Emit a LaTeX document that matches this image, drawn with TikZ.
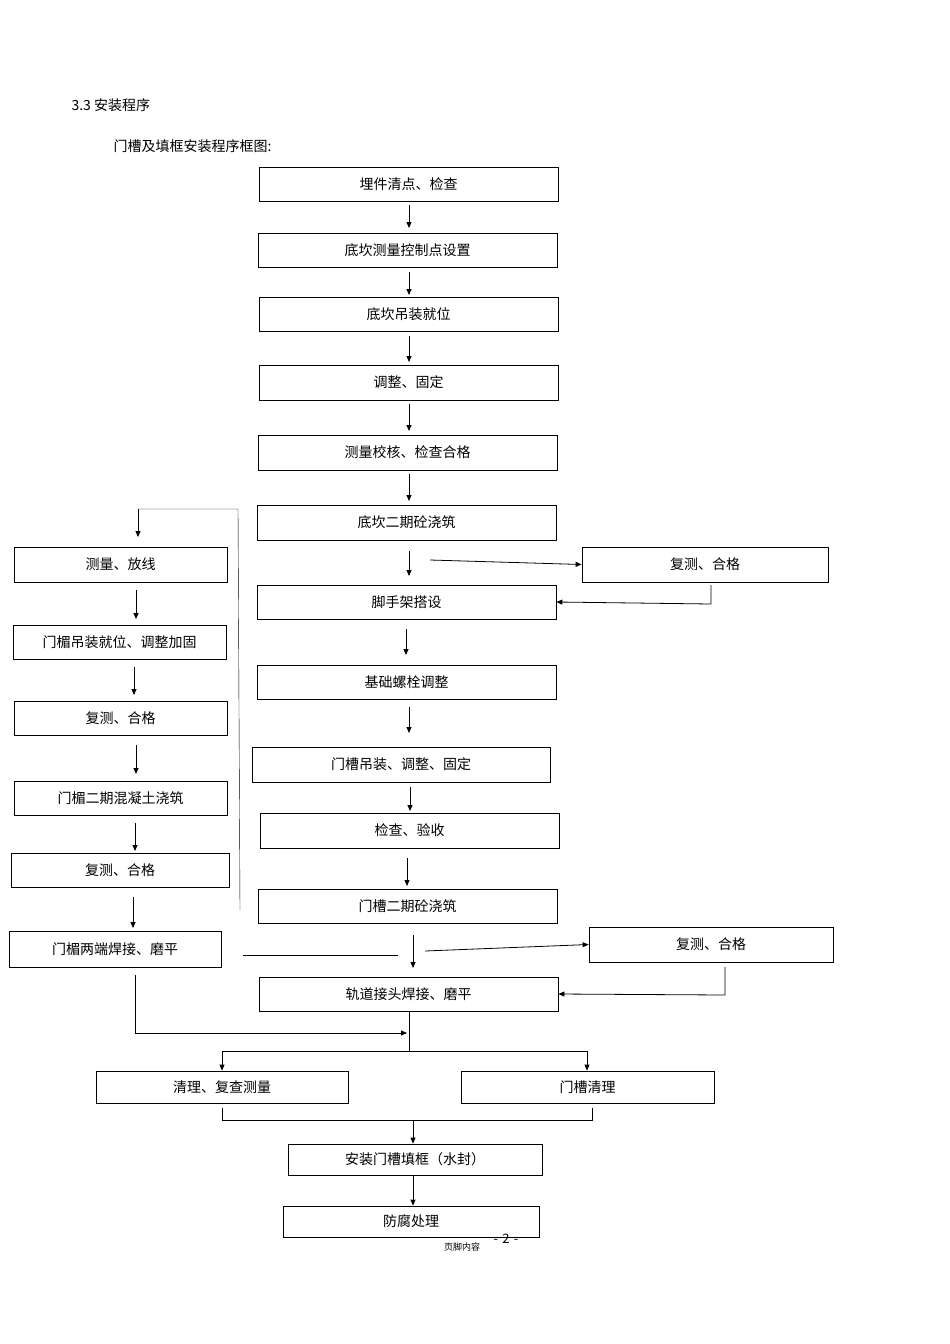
\documentclass[tikz,border=0pt]{standalone}
\usepackage{fontspec}
\setmainfont{Noto Sans CJK SC}
\usetikzlibrary{arrows.meta}
\begin{document}
\begin{tikzpicture}[x=1pt,y=-1pt,
 bx/.style={draw,thick,inner sep=0pt,font=\fontsize{14}{16}\selectfont},
 ar/.style={thick,-{Triangle[length=6pt,width=5pt]}},
 ln/.style={thin}]
\useasboundingbox (0,0) rectangle (950,1344);
\newcommand{\bx}[6]{\node[bx,minimum width=#4-#2,minimum height=#5-#3] (#1) at ({(#2+#4)/2},{(#3+#5)/2}) {#6};}
\node[anchor=west,font=\fontsize{14}{16}\selectfont] (t1) at (68,105) {3.3 安装程序};
\node[anchor=west,font=\fontsize{14}{16}\selectfont] (t2) at (110,146) {门槽及填框安装程序框图:};
\bx{A}{259}{167}{558}{201}{埋件清点、检查}
\bx{B}{258}{233}{557}{267}{底坎测量控制点设置}
\bx{C}{259}{297}{558}{331}{底坎吊装就位}
\bx{D}{259}{365}{558}{400}{调整、固定}
\bx{E}{258}{435}{557}{470}{测量校核、检查合格}
\bx{F}{257}{505}{556}{540}{底坎二期砼浇筑}
\bx{G}{582}{547}{828}{582}{复测、合格}
\bx{H}{257}{585}{556}{619}{脚手架搭设}
\bx{I}{257}{665}{556}{699}{基础螺栓调整}
\bx{J}{252}{747}{550}{782}{门槽吊装、调整、固定}
\bx{K}{260}{813}{559}{848}{检查、验收}
\bx{L}{258}{889}{557}{923}{门槽二期砼浇筑}
\bx{M}{589}{927}{833}{962}{复测、合格}
\bx{N}{259}{977}{558}{1011}{轨道接头焊接、磨平}
\bx{La}{14}{547}{227}{582}{测量、放线}
\bx{Lb}{13}{625}{226}{659}{门楣吊装就位、调整加固}
\bx{Lc}{14}{701}{227}{735}{复测、合格}
\bx{Ld}{14}{781}{227}{815}{门楣二期混凝土浇筑}
\bx{Le}{11}{853}{229}{887}{复测、合格}
\bx{Lf}{9}{931}{221}{967}{门楣两端焊接、磨平}
\bx{P}{96}{1071}{348}{1103}{清理、复查测量}
\bx{Q}{461}{1071}{714}{1103}{门槽清理}
\bx{R}{288}{1144}{542}{1175}{安装门槽填框（水封）}
\bx{S}{283}{1206}{539}{1237}{防腐处理}
\node[font=\fontsize{9}{10}\selectfont] (ft) at (462,1247) {页脚内容};
\node[font=\fontsize{13}{14}\selectfont] (pg) at (506,1239) {-\,\,2\,\,-};
% main chain
\draw[ar] (409,205) -- (409,228);
\draw[ar] (409,272) -- (409,295);
\draw[ar] (409,336) -- (409,362);
\draw[ar] (409,404) -- (409,431);
\draw[ar] (409,474) -- (409,501);
\draw[ar] (409,551) -- (409,576);
\draw[ar] (430,560) -- (G.west);
\draw[ar] (711,585) -- (711,604) -- (H.east);
\draw[ar] (406,629) -- (406,655);
\draw[ar] (409,707) -- (409,733);
\draw[ar] (410,787) -- (410,811);
\draw[ar] (407,858) -- (407,886);
\draw[ar] (413,935) -- (413,968);
\draw[ar] (425,951) -- (M.west);
\draw[ar] (725,967) -- (725,995) -- (N.east);
\draw[ln] (243,955) -- (398,955);
% left loop
\draw[ln] (240,910) -- (238,509) -- (138,509);
\draw[ar] (138,509) -- (138,537);
\draw[ar] (136,590) -- (136,619);
\draw[ar] (134,667) -- (134,695);
\draw[ar] (136,745) -- (136,774);
\draw[ar] (135,823) -- (135,851);
\draw[ar] (133,897) -- (133,928);
\draw[ln] (135,975) -- (135,1033);
\draw[ar] (135,1033) -- (407,1033);
% merge/split
\draw[ln] (N.south -| 409,0) -- (409,1051);
\draw[ln] (222,1051) -- (587,1051);
\draw[ar] (222,1051) -- (P.north -| 222,0);
\draw[ar] (587,1051) -- (Q.north -| 587,0);
\draw[ln] (222,1108) -- (222,1120) -- (592,1120) -- (592,1108);
\draw[ar] (413,1120) -- (R.north -| 413,0);
\draw[ar] (413,1175) -- (S.north -| 413,0);
\end{tikzpicture}
\end{document}
